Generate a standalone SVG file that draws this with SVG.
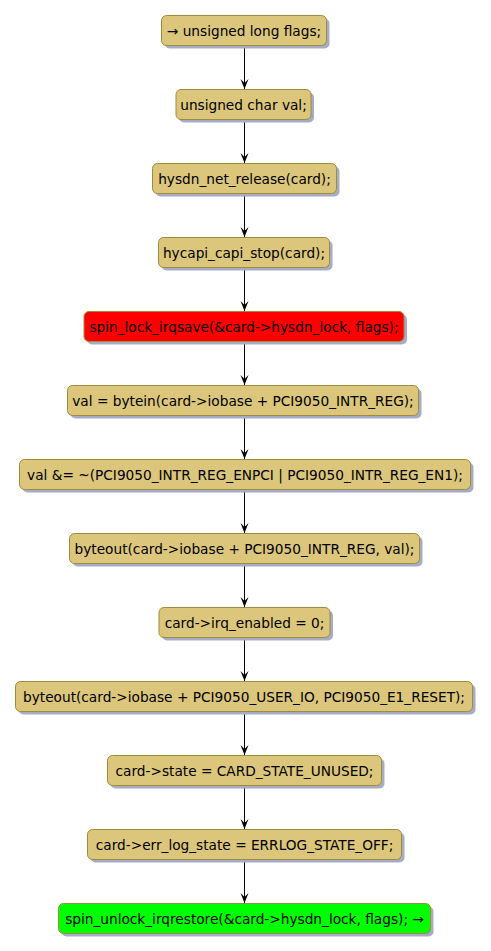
<svg xmlns="http://www.w3.org/2000/svg" width="491" height="951" viewBox="0 0 491 951">
<style>
.n rect.b{fill:#DBC67C;stroke:#A08A3C;stroke-width:1}
.n rect.s{fill:#A4ADC4;stroke:none}
.n text{font-family:"DejaVu Sans",sans-serif;font-size:13.7px;fill:#000;text-anchor:middle}
.c line{stroke:#000;stroke-width:1}
.c polygon{fill:#000;stroke:none}
</style>
<defs>
<marker id="ah" viewBox="0 0 10 10" refX="10" refY="5" markerWidth="10" markerHeight="10" markerUnits="userSpaceOnUse" orient="auto">
<polygon points="0,1 10,5 0,9 4,5" fill="#000"/>
</marker>
</defs>
<rect width="491" height="951" fill="#fff"/>
<g class="c">
<line x1="244.5" y1="45.5" x2="244.5" y2="89" marker-end="url(#ah)"/>
<line x1="244.5" y1="119.5" x2="244.5" y2="163" marker-end="url(#ah)"/>
<line x1="244.5" y1="193.5" x2="244.5" y2="237" marker-end="url(#ah)"/>
<line x1="244.5" y1="267.5" x2="244.5" y2="311" marker-end="url(#ah)"/>
<line x1="244.5" y1="341.5" x2="244.5" y2="385" marker-end="url(#ah)"/>
<line x1="244.5" y1="415.5" x2="244.5" y2="459" marker-end="url(#ah)"/>
<line x1="244.5" y1="489.5" x2="244.5" y2="533" marker-end="url(#ah)"/>
<line x1="244.5" y1="563.5" x2="244.5" y2="607" marker-end="url(#ah)"/>
<line x1="244.5" y1="637.5" x2="244.5" y2="681" marker-end="url(#ah)"/>
<line x1="244.5" y1="711.5" x2="244.5" y2="755" marker-end="url(#ah)"/>
<line x1="244.5" y1="785.5" x2="244.5" y2="829" marker-end="url(#ah)"/>
<line x1="244.5" y1="859.5" x2="244.5" y2="903" marker-end="url(#ah)"/>
</g>
<g id="n1" class="n"><rect class="s" x="164.5" y="18.5" width="165" height="30" rx="5"/><rect class="b" x="161.5" y="15.5" width="165" height="30" rx="5"/><text x="244" y="35.5">→ unsigned long flags;</text></g>
<g id="n2" class="n"><rect class="s" x="179" y="92.5" width="135" height="30" rx="5"/><rect class="b" x="176" y="89.5" width="135" height="30" rx="5"/><text x="243.5" y="109.5">unsigned char val;</text></g>
<g id="n3" class="n"><rect class="s" x="155.5" y="166.5" width="184" height="30" rx="5"/><rect class="b" x="152.5" y="163.5" width="184" height="30" rx="5"/><text x="244.5" y="183.5">hysdn_net_release(card);</text></g>
<g id="n4" class="n"><rect class="s" x="161.5" y="240.5" width="171" height="30" rx="5"/><rect class="b" x="158.5" y="237.5" width="171" height="30" rx="5"/><text x="244" y="257.5">hycapi_capi_stop(card);</text></g>
<g id="n5" class="n"><rect class="s" x="87" y="314.5" width="320" height="30" rx="5"/><rect class="b" x="84" y="311.5" width="320" height="30" rx="5" style="fill:#FF0000"/><text x="244" y="331.5">spin_lock_irqsave(&amp;card-&gt;hysdn_lock, flags);</text></g>
<g id="n6" class="n"><rect class="s" x="70.5" y="388.5" width="351" height="30" rx="5"/><rect class="b" x="67.5" y="385.5" width="351" height="30" rx="5"/><text x="243" y="405.5">val = bytein(card-&gt;iobase + PCI9050_INTR_REG);</text></g>
<g id="n7" class="n"><rect class="s" x="22.5" y="462.5" width="451" height="30" rx="5"/><rect class="b" x="19.5" y="459.5" width="451" height="30" rx="5"/><text x="245" y="479.5">val &amp;= ~(PCI9050_INTR_REG_ENPCI | PCI9050_INTR_REG_EN1);</text></g>
<g id="n8" class="n"><rect class="s" x="72.5" y="536.5" width="350" height="30" rx="5"/><rect class="b" x="69.5" y="533.5" width="350" height="30" rx="5"/><text x="244.5" y="553.5">byteout(card-&gt;iobase + PCI9050_INTR_REG, val);</text></g>
<g id="n9" class="n"><rect class="s" x="162" y="610.5" width="171" height="30" rx="5"/><rect class="b" x="159" y="607.5" width="171" height="30" rx="5"/><text x="244.5" y="627.5">card-&gt;irq_enabled = 0;</text></g>
<g id="n10" class="n"><rect class="s" x="18.5" y="684.5" width="457" height="30" rx="5"/><rect class="b" x="15.5" y="681.5" width="457" height="30" rx="5"/><text x="244" y="701.5">byteout(card-&gt;iobase + PCI9050_USER_IO, PCI9050_E1_RESET);</text></g>
<g id="n11" class="n"><rect class="s" x="110.5" y="758.5" width="274" height="30" rx="5"/><rect class="b" x="107.5" y="755.5" width="274" height="30" rx="5"/><text x="244.5" y="775.5">card-&gt;state = CARD_STATE_UNUSED;</text></g>
<g id="n12" class="n"><rect class="s" x="90.5" y="832.5" width="314" height="30" rx="5"/><rect class="b" x="87.5" y="829.5" width="314" height="30" rx="5"/><text x="244.5" y="849.5">card-&gt;err_log_state = ERRLOG_STATE_OFF;</text></g>
<g id="n13" class="n"><rect class="s" x="61.5" y="906.5" width="372" height="30" rx="5"/><rect class="b" x="58.5" y="903.5" width="372" height="30" rx="5" style="fill:#00FF00"/><text x="244.5" y="923.5">spin_unlock_irqrestore(&amp;card-&gt;hysdn_lock, flags); →</text></g>
</svg>
